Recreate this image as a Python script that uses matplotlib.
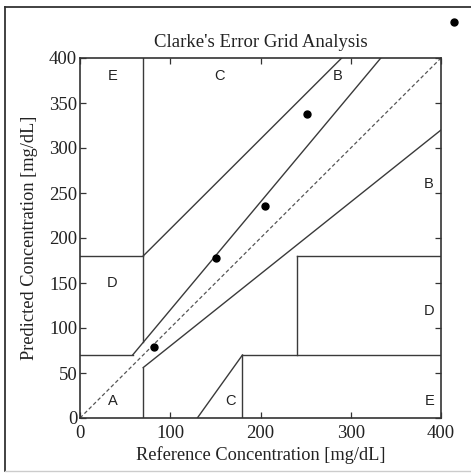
import matplotlib.pyplot as plt
from matplotlib.lines import Line2D

# measured vs reference glucose values [mg/dL]
ref_vals = [82, 151, 205, 252, 414]
pred_vals = [79, 178, 236, 338, 440]

# zone boundary segments (x0, x1, y0, y1)
zone_lines = [
    (0, 175 / 3, 70, 70),
    (175 / 3, 400 / 1.2, 70, 400),
    (70, 70, 84, 400),
    (0, 70, 180, 180),
    (70, 290, 180, 400),
    (70, 70, 0, 56),
    (70, 400, 56, 320),
    (180, 180, 0, 70),
    (180, 400, 70, 70),
    (240, 240, 70, 180),
    (240, 400, 180, 180),
    (130, 180, 0, 70),
]

# zone letters
zone_labels = ['A', 'B', 'B', 'C', 'C', 'D', 'D', 'E', 'E']
label_x = [36, 386, 286, 155, 167, 36, 387, 36, 387]
label_y = [19, 260, 380, 380, 19, 150, 119, 380, 19]

serif = ['Liberation Serif', 'DejaVu Serif']
sans = ['Liberation Sans', 'DejaVu Sans']

fig = plt.figure(figsize=(4.71, 4.74), dpi=100)
ax = fig.add_axes([80 / 471, 56 / 474, 361 / 471, 360 / 474])

line_col = '#3a3a3a'
ax.plot([0, 400], [0, 400], '--', color='#555555', lw=0.9, dashes=(3, 2))
for x0, x1, y0, y1 in zone_lines:
    ax.plot([x0, x1], [y0, y1], '-', color=line_col, lw=1.0)

ax.plot(ref_vals, pred_vals, 'o', color='black', ms=5, clip_on=False, zorder=5)

for lab, x, y in zip(zone_labels, label_x, label_y):
    ax.text(x, y, lab, family=sans, fontsize=10.5, ha='center', va='center', color='#222222')

ax.set_xlim(0, 400)
ax.set_ylim(0, 400)
ax.set_xticks([0, 100, 200, 300, 400])
ax.set_yticks(range(0, 401, 50))
ax.tick_params(direction='in', top=True, right=True, length=4, width=0.9,
               labelsize=13.5, colors='#333333', labelcolor='#222222')
ax.tick_params(axis='x', pad=5)
ax.tick_params(axis='y', pad=2)
for lbl in ax.get_xticklabels() + ax.get_yticklabels():
    lbl.set_family(serif)
for sp in ax.spines.values():
    sp.set_color('#333333')
    sp.set_linewidth(1.2)

ax.set_xlabel('Reference Concentration [mg/dL]', family=serif, fontsize=13.2, color='#222222', labelpad=3)
ax.set_ylabel('Predicted Concentration [mg/dL]', family=serif, fontsize=13.2, color='#222222', labelpad=8)
ax.set_title("Clarke's Error Grid Analysis", family=serif, fontsize=13.5, color='#222222', pad=8)

# outer frame
fig.add_artist(Line2D([4.5 / 471, 1], [1 - 6.5 / 474, 1 - 6.5 / 474], color='#333333', lw=1.3, transform=fig.transFigure))
fig.add_artist(Line2D([4.5 / 471, 4.5 / 471], [1 - 6.5 / 474, 3.5 / 474], color='#333333', lw=1.3, transform=fig.transFigure))
fig.add_artist(Line2D([4.5 / 471, 1], [3.5 / 474, 3.5 / 474], color='#cccccc', lw=1.0, transform=fig.transFigure))

fig.savefig('out.png', dpi=100)
